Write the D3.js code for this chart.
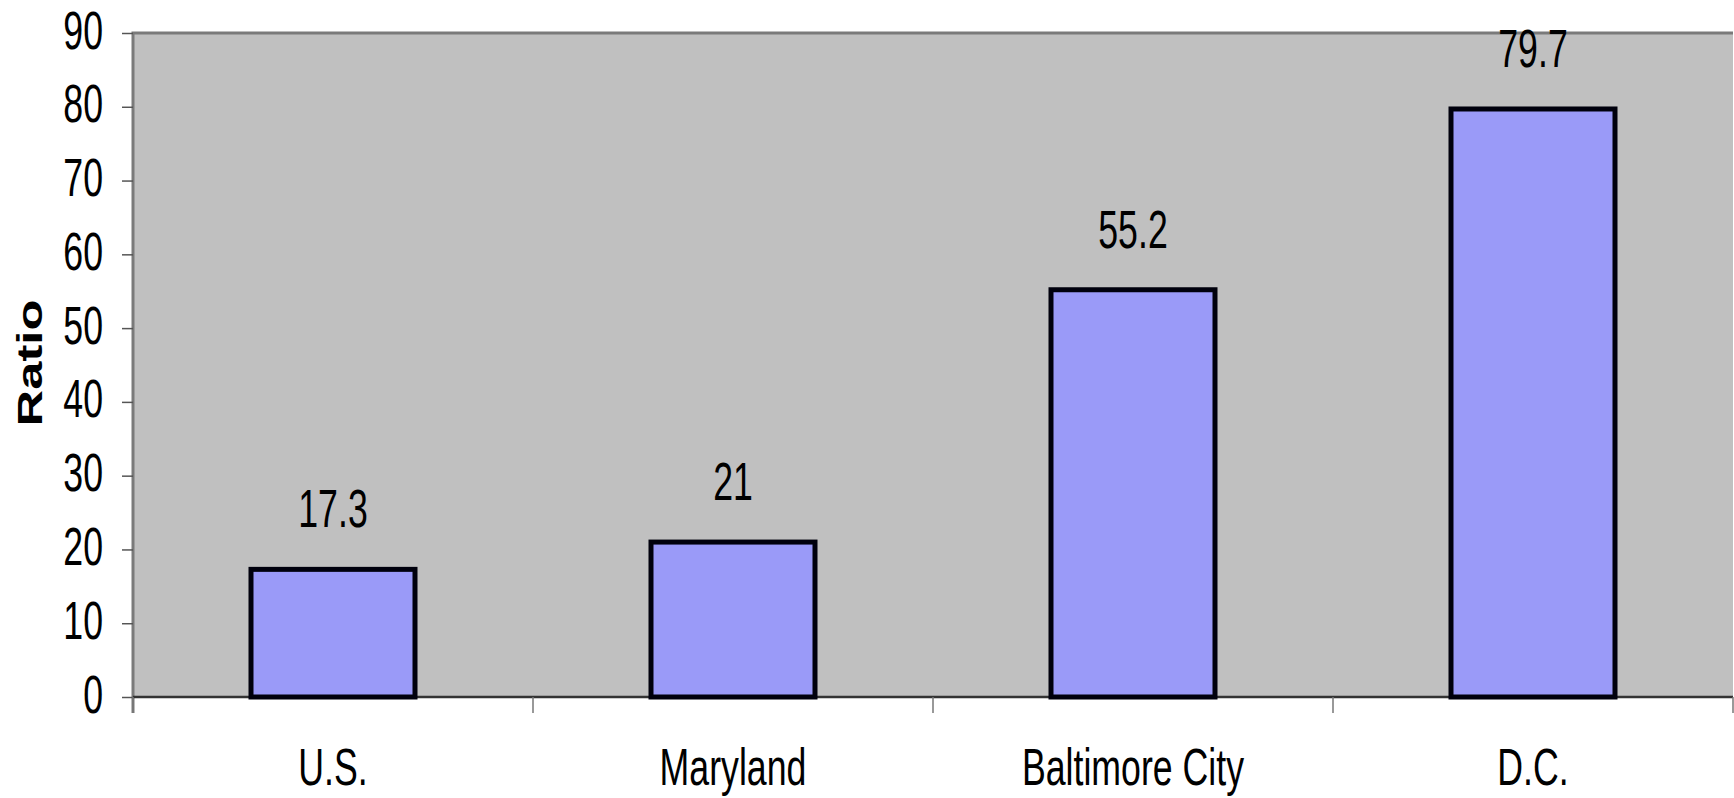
<!DOCTYPE html>
<html>
<head>
<meta charset="utf-8">
<script src="https://cdn.jsdelivr.net/npm/d3@7"></script>
<style>
  html, body { margin: 0; padding: 0; background: #fff; }
  svg { display: block; }
</style>
</head>
<body>
<div id="chart"></div>
<script>
var categories = ["U.S.", "Maryland", "Baltimore City", "D.C."];
var ratios = [17.3, 21, 55.2, 79.7];
var yTicks = [0, 10, 20, 30, 40, 50, 60, 70, 80, 90];

function init(){
    var w = 1734;
    var h = 798;
    var left = 133, right = 1733, top = 33, bottom = 697;
    // the original text is narrow and tall, so squeeze/stretch plain sans
    var sx = 0.85, sy = 1.28;
    var textScale = "scale(" + sx + "," + sy + ")";
    var font = "'Liberation Sans', Arial, sans-serif";

    var svg = d3.select("#chart")
                .append("svg")
                .attr("width", w)
                .attr("height", h);

    var x = d3.scaleBand()
              .domain(categories)
              .range([left, right])
              .padding(0);

    var y = d3.scaleLinear()
              .domain([0, 90])
              .range([bottom, top]);

    // plot background
    svg.append("rect")
       .attr("x", left)
       .attr("y", top)
       .attr("width", right - left)
       .attr("height", bottom - top)
       .attr("fill", "#c0c0c0");

    // top and left borders
    svg.append("path")
       .attr("d", "M" + left + "," + (bottom + 16) + "V" + top + "H" + right)
       .attr("fill", "none")
       .attr("stroke", "#7a7a7a")
       .attr("stroke-width", 3);

    // y axis
    var yAxis = svg.append("g")
       .attr("transform", "translate(" + left + ",0)")
       .call(d3.axisLeft(y).tickValues(yTicks).tickSize(11).tickPadding(19));

    yAxis.select(".domain").remove();
    yAxis.selectAll(".tick line")
         .attr("stroke", "#555")
         .attr("stroke-width", 1.5);
    yAxis.selectAll(".tick text")
         .attr("x", -30 / sx)
         .attr("dy", "0.28em")
         .attr("transform", textScale)
         .style("font-family", font)
         .style("font-size", "42px")
         .attr("fill", "#000");

    // x axis line and category ticks at band edges
    svg.append("line")
       .attr("x1", left)
       .attr("x2", right)
       .attr("y1", bottom)
       .attr("y2", bottom)
       .attr("stroke", "#333")
       .attr("stroke-width", 2.5);

    var edges = categories.map(function(c){ return x(c); }).concat([x.range()[1]]);
    svg.selectAll("line.xtick")
       .data(edges)
       .enter()
       .append("line")
       .attr("class", "xtick")
       .attr("x1", function(d){ return d; })
       .attr("x2", function(d){ return d; })
       .attr("y1", bottom)
       .attr("y2", bottom + 16)
       .attr("stroke", "#777")
       .attr("stroke-width", 1.5);

    // bars
    var barW = x.bandwidth() * 0.41;
    svg.selectAll("rect.bar")
       .data(ratios)
       .enter()
       .append("rect")
       .attr("class", "bar")
       .attr("x", function(d, i){ return x(categories[i]) + (x.bandwidth() - barW) / 2; })
       .attr("y", function(d){ return y(d); })
       .attr("width", barW)
       .attr("height", function(d){ return y(0) - y(d); })
       .attr("fill", "#9a9af8")
       .attr("stroke", "#00000d")
       .attr("stroke-width", 5);

    // value labels
    svg.selectAll("text.value")
       .data(ratios)
       .enter()
       .append("text")
       .attr("class", "value")
       .attr("transform", function(d, i){
         return "translate(" + (x(categories[i]) + x.bandwidth() / 2) + "," + (y(d) - 42) + ") " + textScale;
       })
       .attr("text-anchor", "middle")
       .style("font-family", font)
       .style("font-size", "42px")
       .text(function(d){ return String(d); });

    // category labels
    svg.selectAll("text.cat")
       .data(categories)
       .enter()
       .append("text")
       .attr("class", "cat")
       .attr("transform", function(d){
         return "translate(" + (x(d) + x.bandwidth() / 2) + ",785) scale(" + sx + ",1.25)";
       })
       .attr("text-anchor", "middle")
       .style("font-family", font)
       .style("font-size", "42px")
       .text(function(d){ return d; });

    // y axis title
    svg.append("text")
       .attr("transform", "translate(42,363) rotate(-90) scale(1.45,1)")
       .attr("text-anchor", "middle")
       .style("font-family", font)
       .style("font-weight", "bold")
       .style("font-size", "35px")
       .text("Ratio");
}

window.onload = init;
</script>
</body>
</html>
